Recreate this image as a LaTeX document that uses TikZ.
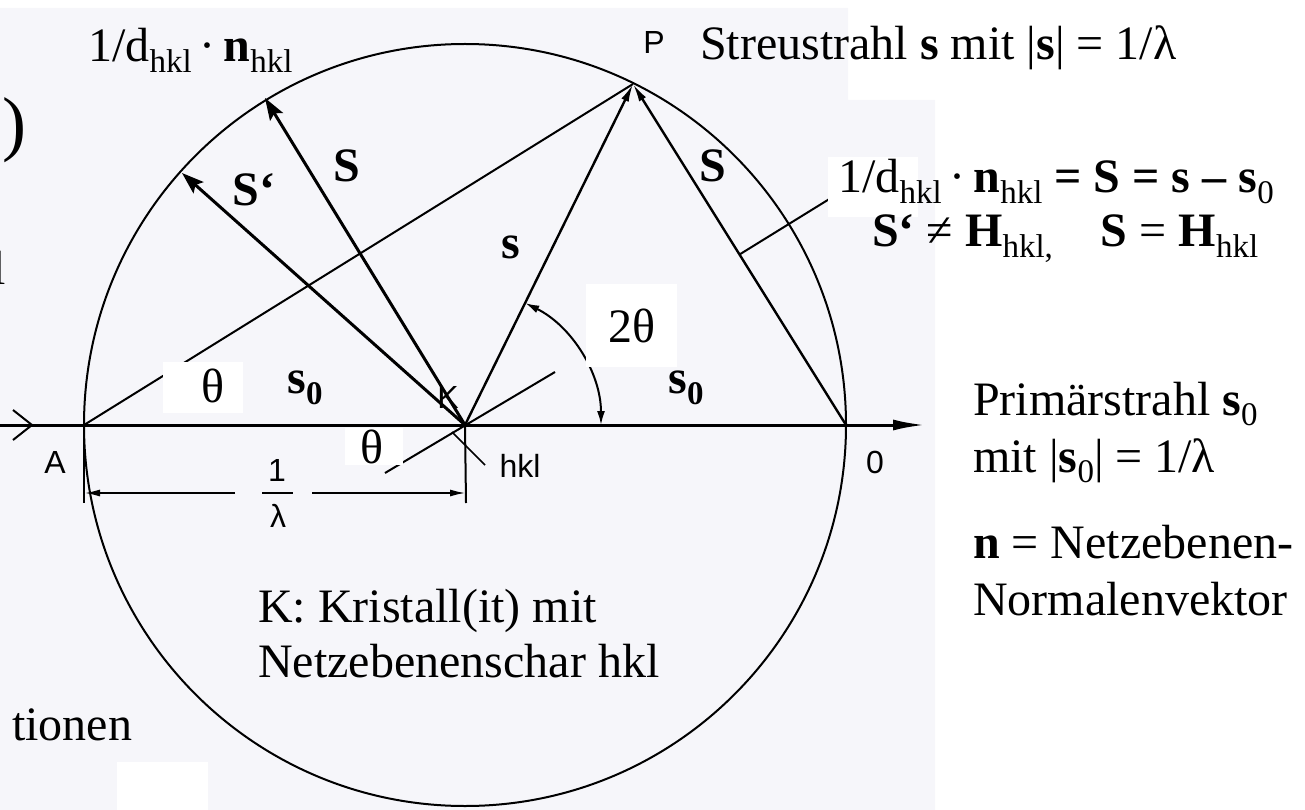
\documentclass[tikz,border=0pt]{standalone}
\usepackage{fontspec}
\setmainfont{Liberation Serif}
\newfontfamily\scanfont{Liberation Sans}
\usetikzlibrary{arrows.meta, calc}
\definecolor{scanbg}{RGB}{246,246,250}
\newcommand{\idx}[1]{\raisebox{-0.22em}{\fontsize{33}{33}\selectfont #1}}

\begin{document}
\begin{tikzpicture}[x=1pt, y=-1pt,
    txt/.style={font=\fontsize{48}{56}\selectfont, inner sep=0pt},
    lbl/.style={font=\scanfont\fontsize{32}{32}\selectfont, inner sep=0pt},
    scan/.style={line width=2pt},
    vec/.style={line width=3pt, -{Stealth[length=22pt, width=15pt, inset=4pt]}},
    tipline/.style={line width=2.4pt, -{Latex[length=18pt, width=8pt]}}]
  \useasboundingbox (0,0) rectangle (1305,810);
  \fill[scanbg] (0,8) -- (848,8) -- (848,100) -- (935,100) -- (935,810) -- (0,810) -- cycle;

  % Ewald sphere
  \coordinate (K) at (465,425);
  \coordinate (A) at (84,425);
  \coordinate (O) at (846,425);
  \coordinate (P) at (633,84);
  \coordinate (beamL) at (0,425);
  \coordinate (beamR) at (925,425);
  \draw[scan] (K) circle[radius=381];
  \draw[line width=3pt, -{Latex[length=32pt, width=11pt]}] (beamL) -- (beamR);
  \draw[scan] (13,410) -- (32,425) -- (13,440);
  \draw[scan] (A) -- (P);
  \draw[tipline] (K) -- (P);
  \draw[tipline] (O) -- (P);
  % netplane hkl and normal mark
  \draw[scan] (385,473) -- (555,372);
  \draw[scan] ($(P)!0.5!(O)$) -- ++(102,-63);
  \node[lbl] (lblA) at (55,462) {A};
  \node[lbl] (lblP) at (654,42) {P};
  \node[lbl] (lblO) at (875,462) {0};
  \node[lbl] (lblK) at (448,397) {K};
  \node[lbl] (hkl) at (520,466) {hkl};
  \draw[line width=1.6pt] (452,432) -- (485,465);
  % 1/lambda
  \coordinate (dimL) at (84,493);
  \coordinate (dimR) at (466,493);
  \draw[scan] (A) -- (84,503);
  \draw[scan] (K) -- (466,503);
  \node[lbl] (lam1) at (277,470) {1};
  \node[lbl] (lam2) at (278,516) {λ};
  \draw[line width=2.6pt] (262,493) -- (293,493);
  \draw[scan, -{Latex[length=16pt, width=7pt]}] (235,493) -- (dimL);
  \draw[scan, -{Latex[length=16pt, width=7pt]}] (312,493) -- (dimR);
  % 2theta
  \draw[scan, {Latex[length=14pt, width=8pt]}-{Latex[length=14pt, width=8pt]}]
      ($(K)+(136,0)$) arc[start angle=0, end angle=-63.7, radius=136];
  % vectors S, S'
  \coordinate (Shkl) at (265,98);
  \coordinate (Sdash) at (182,173);
  \draw[vec] (K) -- (Shkl);
  \draw[vec] (K) -- (Sdash);

  % white boxes
  \fill[white] (163,362) rectangle (243,413);
  \fill[white] (345,428) rectangle (403,465);
  \fill[white] (586,284) rectangle (677,367);
  \fill[white] (828,157) rectangle (918,217);
  \fill[white] (117,762) rectangle (208,810);

  \node[txt] (th1) at (213,386) {θ};
  \node[txt] (th2) at (372,447) {θ};
  \node[txt] (tth) at (632,326) {2θ};
  \node[txt] (s0l) at (305,388) {\textbf{s\idx{0}}};
  \node[txt] (s0r) at (686,388) {\textbf{s\idx{0}}};
  \node[txt] (sv) at (511,247) {\textbf{s}};
  \node[txt] (Sl) at (347,166) {\textbf{S}};
  \node[txt] (Sr) at (713,166) {\textbf{S}};
  \node[txt] (Sd) at (254,190) {\textbf{S‘}};

  % text
  \node[txt, anchor=base west] (dn) at (88,62) {1/d\idx{hkl}\,·\,\textbf{n}\idx{hkl}};
  \node[txt, anchor=base west] (streu) at (700,60) {Streustrahl \textbf{s} mit |\textbf{s}| = 1/λ};
  \node[txt, anchor=base west] (eq1) at (838,193) {1/d\idx{hkl}\,·\,\textbf{n}\idx{hkl} \textbf{= S = s – s}\idx{0}};
  \node[txt, anchor=base west] (eq2) at (872,247) {\textbf{S‘} ≠ \textbf{H}\idx{hkl,}\quad\textbf{S} = \textbf{H}\idx{hkl}};
  \node[txt, anchor=base west] (prim) at (973,415) {Primärstrahl \textbf{s}\idx{0}};
  \node[txt, anchor=base west] (prim2) at (973,472) {mit |\textbf{s}\idx{0}| = 1/λ};
  \node[txt, anchor=base west] (nvec) at (973,558) {\textbf{n} = Netzebenen-};
  \node[txt, anchor=base west] (nvec2) at (973,615) {Normalenvektor};
  \node[txt, anchor=base west] (kris) at (258,622) {K: Kristall(it) mit};
  \node[txt, anchor=base west] (kris2) at (258,677) {Netzebenenschar hkl};
  \node[txt, anchor=base west] (tion) at (12,740) {tionen};
  \node[txt, anchor=east, font=\fontsize{72}{72}\selectfont] (paren) at (27,130) {)};
  \node[txt, anchor=base east] (frag) at (6,284) {l};
\end{tikzpicture}
\end{document}
